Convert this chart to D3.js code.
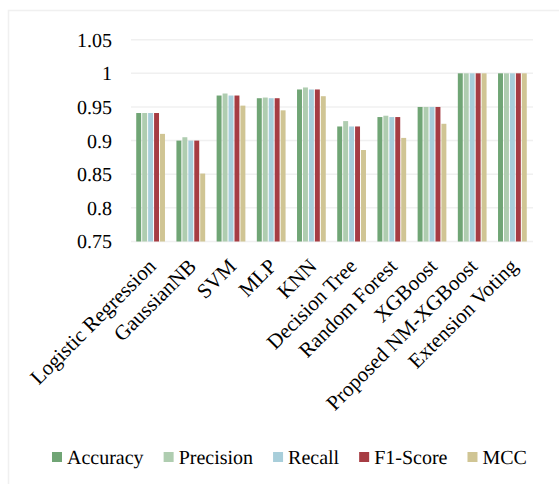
<!DOCTYPE html>
<html>
<head>
<meta charset="utf-8">
<script src="https://cdn.jsdelivr.net/npm/d3@7/dist/d3.min.js"></script>
<style>
  html, body { margin: 0; padding: 0; background: #fff; }
  svg { display: block; text-rendering: geometricPrecision; }
</style>
</head>
<body>
<svg id="chart" width="559" height="486"></svg>
<script>
const categories = ["Logistic Regression", "GaussianNB", "SVM", "MLP", "KNN", "Decision Tree", "Random Forest", "XGBoost", "Proposed NM-XGBoost", "Extension Voting"];
const seriesNames = ["Accuracy", "Precision", "Recall", "F1-Score", "MCC"];
const accuracy  = [0.941, 0.900, 0.967, 0.963, 0.976, 0.921, 0.935, 0.950, 1.000, 1.000];
const precision = [0.941, 0.905, 0.970, 0.964, 0.979, 0.929, 0.937, 0.950, 1.000, 1.000];
const recall    = [0.941, 0.900, 0.967, 0.963, 0.976, 0.921, 0.935, 0.950, 1.000, 1.000];
const f1score   = [0.941, 0.900, 0.967, 0.963, 0.976, 0.921, 0.935, 0.950, 1.000, 1.000];
const mcc       = [0.910, 0.851, 0.952, 0.945, 0.966, 0.886, 0.904, 0.925, 1.000, 1.000];
const yTicks = [0.75, 0.8, 0.85, 0.9, 0.95, 1, 1.05];
const colors = ["#70a575", "#afcdb0", "#a8ceda", "#a63c43", "#d0c594"];

const seriesValues = [accuracy, precision, recall, f1score, mcc];
const FONT = '"Liberation Serif", "Times New Roman", serif';

const svg = d3.select("#chart");

// faint outer frame
svg.append("path")
  .attr("d", "M8.5,484 L8.5,10.5 L559,10.5")
  .attr("fill", "none").attr("stroke", "#f0f0f0").attr("stroke-width", 1.5);

const x0 = d3.scaleBand().domain(categories).range([131, 533]).paddingInner(0.26).paddingOuter(0.13);
const x1 = d3.scaleBand().domain(seriesNames).range([0, x0.bandwidth()]);
const y = d3.scaleLinear().domain([0.75, 1.05]).range([241.5, 39.7]);

// gridlines
svg.append("g").selectAll("line").data(yTicks).join("line")
  .attr("x1", 131).attr("x2", 533)
  .attr("y1", d => y(d)).attr("y2", d => y(d))
  .attr("stroke", "#f0f0f0").attr("stroke-width", 1.5);

// y axis labels
const yAxis = d3.axisLeft(y).tickValues(yTicks).tickSize(0).tickPadding(0)
  .tickFormat(d => String(+d.toFixed(2)));
const yg = svg.append("g").attr("transform", "translate(112,0)").call(yAxis);
yg.select(".domain").remove();
yg.attr("font-family", null).attr("font-size", null);
yg.selectAll("text").style("font-family", FONT).style("font-size", "20px").attr("fill", "#000");

// bars
const groups = svg.append("g").selectAll("g").data(categories).join("g")
  .attr("transform", d => `translate(${x0(d)},0)`);
groups.selectAll("rect")
  .data((c, i) => seriesNames.map((s, j) => ({ s, v: seriesValues[j][i], j })))
  .join("rect")
  .attr("x", d => x1(d.s))
  .attr("width", x1.bandwidth() - 1)
  .attr("y", d => y(d.v))
  .attr("height", d => y(0.75) - y(d.v))
  .attr("fill", d => colors[d.j]);

// x labels
svg.append("g").selectAll("text").data(categories).join("text")
  .attr("transform", d => `translate(${x0(d) + x0.bandwidth() / 2 + 6},${y(0.75) + 26}) rotate(-45)`)
  .attr("text-anchor", "end")
  .style("font-family", FONT)
  .style("font-size", "21px")
  .attr("fill", "#000")
  .text(d => d);

// legend
const legend = svg.append("g");
let lx = 52;
seriesNames.forEach((s, j) => {
  legend.append("rect").attr("x", lx).attr("y", 452).attr("width", 10).attr("height", 10).attr("fill", colors[j]);
  const t = legend.append("text").attr("x", lx + 15).attr("y", 464)
    .style("font-family", FONT).style("font-size", "20px").attr("fill", "#000").text(s);
  lx += 15 + t.node().getComputedTextLength() + 20;
});
</script>
</body>
</html>
